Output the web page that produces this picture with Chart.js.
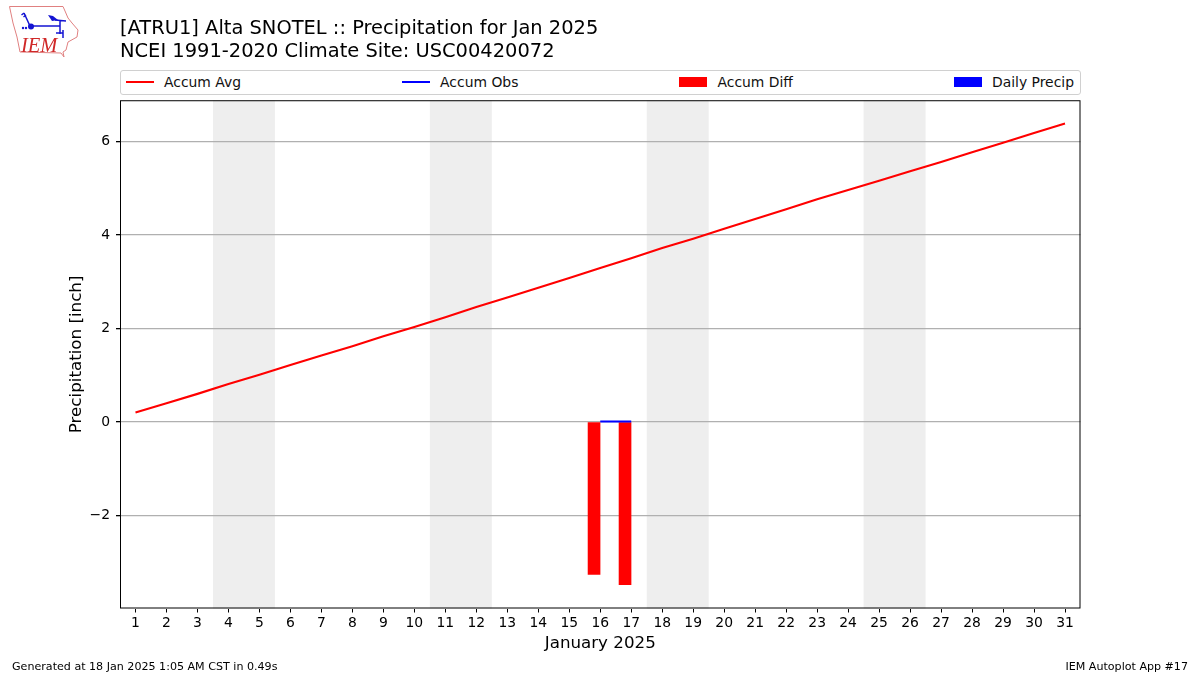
<!DOCTYPE html>
<html>
<head>
<meta charset="utf-8">
<title>Alta SNOTEL Precipitation</title>
<script src="https://cdn.jsdelivr.net/npm/chart.js@4"></script>
<style>
    html, body { margin: 0; padding: 0; background: #fff; }
    body { width: 1200px; height: 675px; position: relative; overflow: hidden; font-family: "DejaVu Sans", sans-serif; color: #000; }
    canvas { position: absolute; left: 0; top: 0; }
    #logo { position: absolute; left: 0; top: 0; }
    #legend {
        position: absolute; left: 120px; top: 70px; width: 948px; height: 21px; padding: 0 6px 2px 5px;
        border: 1px solid #d0d0d0; border-radius: 3px; background: #fff;
        display: flex; justify-content: space-between; align-items: center; font-size: 13.9px; color: #111;
    }
    .item { display: flex; align-items: center; }
    .swatch { width: 28px; margin-right: 10px; }
    .foot { position: absolute; top: 660px; font-size: 11.1px; line-height: 13px; }
</style>
</head>
<body>
<canvas id="chart" width="1200" height="675"></canvas>
<svg id="logo" width="90" height="65" viewBox="0 0 90 65">
    <path d="M9.5 6.5 L63 6.5 L65 11 L68 18 L72 23 L78 30 L77 37 L68 42 L66 50 L63 52 L64 57 L61 53 L20 52 L17 37 L13 23 Z" fill="none" stroke="#e08080" stroke-width="1"/>
    <path d="M24 13 L21.5 15 M26 15 L23.5 17 M24 13 L30 26 L60 26 L60 34 M55 20 L66 21 M60 21 L60 26 M56 33 L63 33 M63 30 L63 38" fill="none" stroke="#1414d2" stroke-width="1.5"/>
    <path d="M48 15 L53 16 L58 20 L52 21 Z" fill="#1414d2"/>
    <circle cx="31" cy="26.5" r="3" fill="#1414d2"/>
    <circle cx="23" cy="28" r="1.2" fill="#1414d2"/>
    <circle cx="26" cy="28" r="1.2" fill="#1414d2"/>
    <text x="21" y="52" font-family="Liberation Serif" font-style="italic" font-size="20.5" fill="#d02828">IEM</text>
</svg>
<div id="legend"></div>
<div class="foot" style="left:12px">Generated at 18 Jan 2025 1:05 AM CST in 0.49s</div>
<div class="foot" style="right:12px">IEM Autoplot App #17</div>
<script>
// 日付と降水量データ
const days = [1, 2, 3, 4, 5, 6, 7, 8, 9, 10, 11, 12, 13, 14, 15, 16, 17, 18, 19, 20, 21, 22, 23, 24, 25, 26, 27, 28, 29, 30, 31];
const accumAvg = [0.20, 0.40, 0.60, 0.81, 1.01, 1.22, 1.42, 1.62, 1.83, 2.03, 2.24, 2.46, 2.66, 2.87, 3.08, 3.29, 3.50, 3.72, 3.92, 4.13, 4.34, 4.55, 4.76, 4.96, 5.16, 5.36, 5.56, 5.77, 5.97, 6.18, 6.38];
const obsDays = [16, 17];
const accumObs = [0.01, 0.01];
const diffDays = [15.8, 16.8];
const accumDiff = [-3.26, -3.48];
// 日降水量は0なので棒は見えない（凡例のみ）
const dailyDays = [];
const dailyPrecip = [];
const yTicks = [-2, 0, 2, 4, 6];
const weekends = [[3.5, 5.5], [10.5, 12.5], [17.5, 19.5], [24.5, 26.5]];
const titleLines = ['[ATRU1] Alta SNOTEL :: Precipitation for Jan 2025', 'NCEI 1991-2020 Climate Site: USC00420072'];

const fontName = '"DejaVu Sans", sans-serif';

function toPoints(xs, ys) {
    return xs.map((x, i) => ({ x: x, y: ys[i] }));
}

// 週末の網掛けと枠線
const framePlugin = {
    id: 'frame',
    beforeDraw(chart) {
        const { ctx, chartArea, scales } = chart;
        ctx.save();
        ctx.fillStyle = '#eeeeee';
        weekends.forEach(w => {
            const x0 = scales.x.getPixelForValue(w[0]);
            const x1 = scales.x.getPixelForValue(w[1]);
            ctx.fillRect(x0, chartArea.top, x1 - x0, chartArea.bottom - chartArea.top);
        });
        ctx.restore();
    },
    afterDraw(chart) {
        const { ctx, chartArea } = chart;
        ctx.save();
        ctx.strokeStyle = '#000';
        ctx.lineWidth = 1;
        ctx.strokeRect(chartArea.left + 0.5, chartArea.top + 0.5, chartArea.right - chartArea.left - 1, chartArea.bottom - chartArea.top - 1);
        ctx.restore();
    }
};

const chart = new Chart(document.getElementById('chart'), {
    data: {
        datasets: [
            { type: 'line', label: 'Accum Avg', data: toPoints(days, accumAvg), borderColor: '#ff0000', backgroundColor: '#ff0000', borderWidth: 2.1, pointRadius: 0, tension: 0, order: 1 },
            { type: 'line', label: 'Accum Obs', data: toPoints(obsDays, accumObs), borderColor: '#0000ff', backgroundColor: '#0000ff', borderWidth: 2.1, pointRadius: 0, tension: 0, order: 2 },
            { type: 'bar', label: 'Accum Diff', data: toPoints(diffDays, accumDiff), backgroundColor: '#ff0000', barThickness: 12, grouped: false, order: 3 },
            { type: 'bar', label: 'Daily Precip', data: toPoints(dailyDays, dailyPrecip), backgroundColor: '#0000ff', barThickness: 12, grouped: false, order: 4 }
        ]
    },
    options: {
        responsive: false,
        animation: false,
        layout: { padding: { top: 18, right: 119.5, bottom: 0, left: 0 } },
        plugins: {
            legend: { display: false },
            tooltip: { enabled: false },
            title: {
                display: true,
                text: titleLines,
                align: 'start',
                fullSize: false,
                color: '#000',
                font: { family: fontName, size: 19.45, weight: 'normal', lineHeight: 1.15 },
                padding: { top: 0, bottom: 37.5 }
            }
        },
        scales: {
            x: {
                type: 'linear',
                offset: false,
                min: 0.5,
                max: 31.5,
                afterBuildTicks: scale => { scale.ticks = days.map(d => ({ value: d })); },
                afterFit: scale => { scale.height = 66.5; },
                grid: { offset: false, drawOnChartArea: false, tickColor: '#000', tickLength: 4 },
                border: { display: false },
                ticks: { autoSkip: false, maxRotation: 0, color: '#000', padding: 3, font: { family: fontName, size: 13.9 }, callback: v => String(v) },
                title: { display: true, text: 'January 2025', color: '#000', font: { family: fontName, size: 16.7 }, padding: { top: 0, bottom: 21 } }
            },
            y: {
                type: 'linear',
                min: -3.99,
                max: 6.88,
                afterBuildTicks: scale => { scale.ticks = yTicks.map(v => ({ value: v })); },
                afterFit: scale => { scale.width = 120; },
                grid: { color: '#b0b0b0', lineWidth: 1.3, tickColor: '#000', tickLength: 4 },
                border: { display: false },
                ticks: { color: '#000', padding: 6, font: { family: fontName, size: 13.9 }, callback: v => String(v).replace('-', '\u2212') },
                title: { display: true, text: 'Precipitation [inch]', color: '#000', font: { family: fontName, size: 16.7 }, padding: { top: 67, bottom: 0 } }
            }
        }
    },
    plugins: [framePlugin]
});

// 凡例をデータセットから生成
const legendDiv = document.getElementById('legend');
chart.data.datasets.forEach(ds => {
    const item = document.createElement('div');
    item.className = 'item';
    const swatch = document.createElement('div');
    swatch.className = 'swatch';
    swatch.style.height = ds.type === 'line' ? '2px' : '10px';
    swatch.style.background = ds.backgroundColor;
    const label = document.createElement('span');
    label.textContent = ds.label;
    item.appendChild(swatch);
    item.appendChild(label);
    legendDiv.appendChild(item);
});
</script>
</body>
</html>
